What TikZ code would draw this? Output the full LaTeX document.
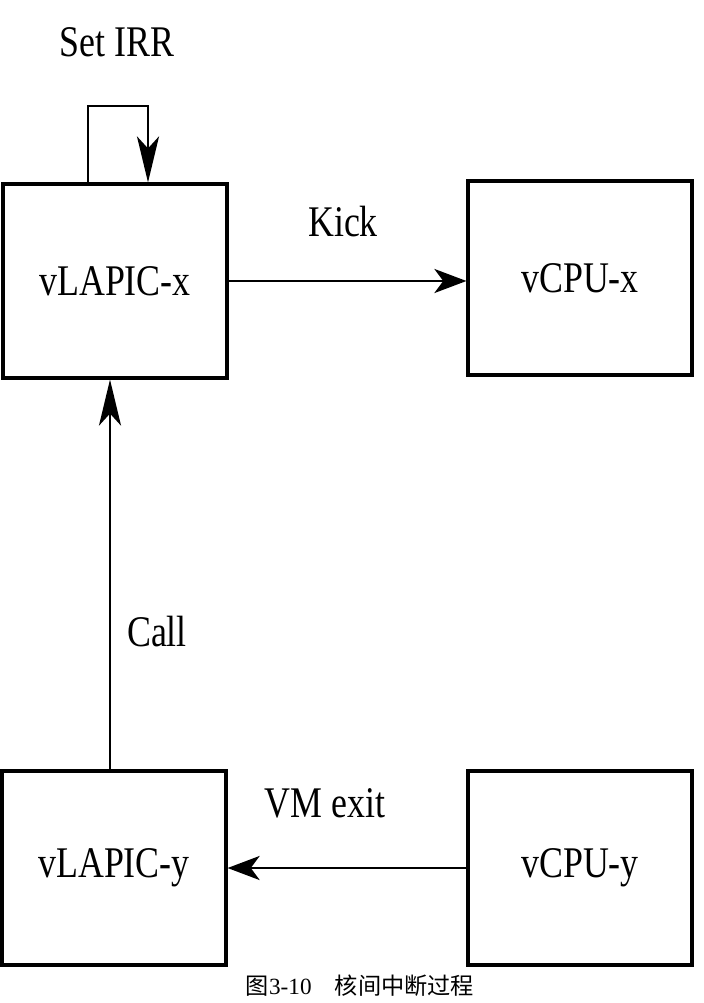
\documentclass[tikz,border=0pt]{standalone}
\usepackage{fontspec}
\usepackage{graphicx}
\setmainfont{Liberation Serif}
\newfontfamily\cjk{Noto Sans CJK SC}
\usetikzlibrary{arrows.meta}
\newcommand{\tallTxt}[1]{\scalebox{1}[1.22]{#1}}

\begin{document}
\begin{tikzpicture}[x=0.025cm,y=-0.025cm,
		box/.style={draw,line width=2.2pt,minimum width=5.6cm,minimum height=4.85cm,font=\fontsize{25.5}{30}\selectfont},
		lbl/.style={font=\fontsize{25.5}{30}\selectfont},
		arr/.style={line width=2pt,-{Stealth[length=0.8cm,width=0.6cm,inset=0.22cm]}},
		varr/.style={line width=2pt,-{Stealth[length=1.15cm,width=0.55cm,inset=0.3cm]}}]
		\useasboundingbox (0,0) rectangle (703,1003);
		\node[box] (lapicx) at (115,281) {\tallTxt{vLAPIC-x}};
		\node[box] (cpux)   at (580,278) {\tallTxt{vCPU-x}};
		\node[box] (lapicy) at (114,868) {\tallTxt{vLAPIC-y}};
		\node[box] (cpuy)   at (580,868) {\tallTxt{vCPU-y}};
		\coordinate (irrL) at (88,106);
		\coordinate (irrR) at (148,106);
		\coordinate (callX) at (110,0);
		\draw[varr] (irrL |- lapicx.north) -- (irrL) -- (irrR) -- (irrR |- lapicx.north);
		\draw[arr] (lapicx.east) -- (lapicx.east -| cpux.west);
		\draw[varr] (callX |- lapicy.north) -- (callX |- lapicx.south);
		\draw[arr] (cpuy.west) -- (lapicy.east);
		\node[lbl] (setirr) at (117,42)  {\tallTxt{Set IRR}};
		\node[lbl] (kick)   at (343,222) {\tallTxt{Kick}};
		\node[lbl] (call)   at (157,632) {\tallTxt{Call}};
		\node[lbl] (vmexit) at (325,803) {\tallTxt{VM exit}};
		\node[font=\fontsize{16.5}{18}\selectfont] (caption) at (360,986) {{\cjk 图}3-10\quad{\cjk 核间中断过程}};
	\end{tikzpicture}
\end{document}
